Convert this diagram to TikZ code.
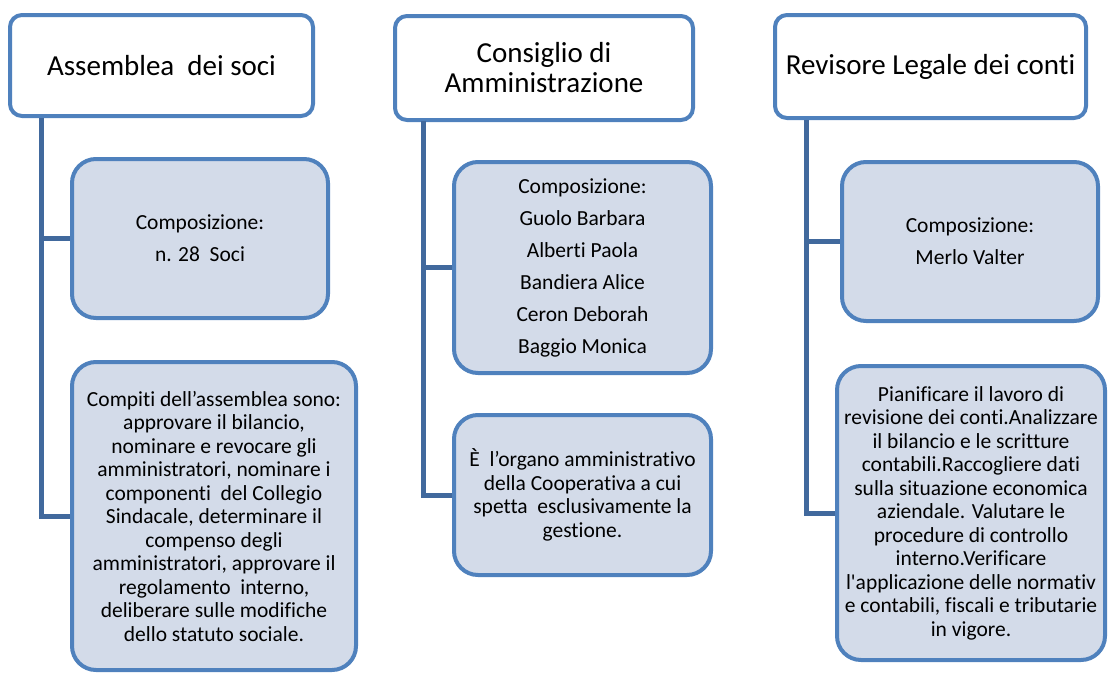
\documentclass[tikz,border=0pt]{standalone}
\usepackage{fontspec}
\setmainfont{Carlito}[Ligatures={TeX,NoCommon}]
\usetikzlibrary{positioning}
\definecolor{orgline}{HTML}{4F81BD}
\definecolor{orgfill}{HTML}{D3DBE9}
\definecolor{orglink}{HTML}{41699D}
\tikzset{
    head/.style={draw=orgline,line width=4pt,fill=white,rounded corners=12pt,align=center,
        font=\fontsize{29}{30}\selectfont},
    member/.style={draw=orgline,line width=4pt,fill=orgfill,rounded corners=24pt,align=center,
        inner sep=2pt,font=\fontsize{21.5}{23.5}\selectfont},
    roster/.style={member,font=\fontsize{21.5}{32}\selectfont},
    link/.style={draw=orglink,line width=5pt},
}

\begin{document}
\begin{tikzpicture}[x=1pt,y=-1pt]
    \useasboundingbox (0,0) rectangle (1108,672);

    \node[head,minimum width=303pt,minimum height=101pt] (hA) at (161.5,65.5) {Assemblea\ \ dei soci};
    \node[head,minimum width=298pt,minimum height=104pt] (hB) at (544,68) {Consiglio di\\Amministrazione};
    \node[head,minimum width=311pt,minimum height=103pt] (hC) at (930.5,66.5) {Revisore Legale dei conti};

    \node[roster,minimum width=256pt,minimum height=159pt] (cA1) at (200,238.5) {Composizione:\\n. 28\ \ Soci};
    \node[member,minimum width=284pt,minimum height=308pt] (cA2) at (214,516) {Compiti dell’assemblea sono:\\approvare il bilancio,\\nominare e revocare gli\\amministratori, nominare i\\componenti\ \ del Collegio\\Sindacale, determinare il\\compenso degli\\amministratori, approvare il\\regolamento\ \ interno,\\deliberare sulle modifiche\\dello statuto sociale.};

    \node[roster,minimum width=257pt,minimum height=211pt] (cB1) at (582.5,267.5) {Composizione:\\Guolo Barbara\\Alberti Paola\\Bandiera Alice\\Ceron Deborah\\Baggio Monica};
    \node[member,minimum width=257pt,minimum height=160pt] (cB2) at (582.5,495) {È\ \ l’organo amministrativo\\della Cooperativa a cui\\spetta\ \ esclusivamente la\\gestione.};

    \node[roster,minimum width=256pt,minimum height=159pt] (cC1) at (970,241.5) {Composizione:\\Merlo Valter};
    \node[member,minimum width=268pt,minimum height=294pt] (cC2) at (971,513) {Pianificare il lavoro di\\revisione dei conti.Analizzare\\il bilancio e le scritture\\contabili.Raccogliere dati\\sulla situazione economica\\aziendale. Valutare le\\procedure di controllo\\interno.Verificare\\l\textquotesingle applicazione delle normativ\\e contabili, fiscali e tributarie\\in vigore.};

    \coordinate (tA) at (41,118);
    \coordinate (tB) at (423,121);
    \coordinate (tC) at (806,120);

    \draw[link] (tA) |- (cA2.west);
    \draw[link] (tA |- cA1.west) -- (cA1.west);
    \draw[link] (tB) |- (cB2.west);
    \draw[link] (tB |- cB1.west) -- (cB1.west);
    \draw[link] (tC) |- (cC2.west);
    \draw[link] (tC |- cC1.west) -- (cC1.west);
\end{tikzpicture}
\end{document}
